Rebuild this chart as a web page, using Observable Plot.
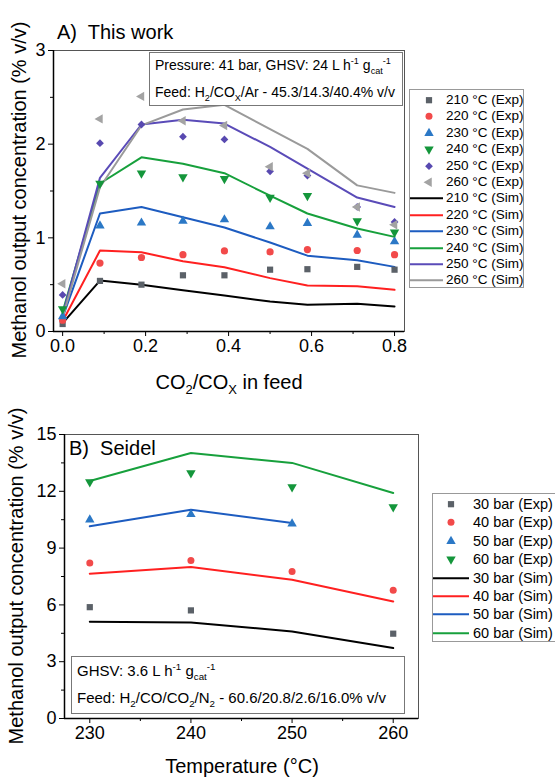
<!DOCTYPE html>
<html><head><meta charset="utf-8">
<script src="https://cdn.jsdelivr.net/npm/d3@7"></script>
<script src="https://cdn.jsdelivr.net/npm/@observablehq/plot@0.6"></script>
<style>
body{margin:0;background:#fff;}
#root{position:relative;width:555px;height:779px;overflow:hidden;font-family:Arial,"Liberation Sans",Helvetica,sans-serif;color:#000;}
.abs{position:absolute;white-space:nowrap;}
sub,sup{font-size:65%;line-height:0;}
.plot{position:absolute;left:0;}
.box{position:absolute;background:#fff;border:1px solid #777;box-sizing:border-box;}
.legend{position:absolute;background:#fff;border:1px solid #999;box-sizing:border-box;}
.row{position:relative;white-space:nowrap;}
.row svg{position:absolute;left:0;top:0;}
.ytitle{position:absolute;white-space:nowrap;font-size:20px;transform:translate(-50%,-50%) rotate(-90deg);}
</style>
</head><body>
<div id="root"></div>
<script>
// ---------- Panel A data ----------
const ratio = [0, 0.09, 0.19, 0.29, 0.39, 0.5, 0.59, 0.71, 0.8];
const tempsA = ["210 °C","220 °C","230 °C","240 °C","250 °C","260 °C"];
const exp210 = [0.08, 0.54, 0.50, 0.60, 0.60, 0.66, 0.665, 0.69, 0.66];
const exp220 = [0.12, 0.73, 0.79, 0.82, 0.86, 0.85, 0.875, 0.865, 0.82];
const exp230 = [0.16, 1.13, 1.16, 1.18, 1.195, 1.12, 1.155, 1.03, 0.96];
const exp240 = [0.24, 1.58, 1.69, 1.65, 1.63, 1.43, 1.45, 1.18, 1.06];
const exp250 = [0.39, 2.01, 2.21, 2.08, 2.05, 1.71, 1.665, 1.33, 1.17];
const exp260 = [0.51, 2.27, 2.51, 2.25, 2.20, 1.76, 1.69, 1.33, 1.14];
const sim210 = [0.09, 0.544, 0.50, 0.44, 0.384, 0.32, 0.285, 0.295, 0.267];
const sim220 = [0.11, 0.864, 0.846, 0.75, 0.686, 0.57, 0.49, 0.483, 0.445];
const sim230 = [0.15, 1.26, 1.33, 1.22, 1.11, 0.95, 0.81, 0.76, 0.69];
const sim240 = [0.21, 1.58, 1.86, 1.79, 1.69, 1.45, 1.26, 1.10, 1.01];
const sim250 = [0.18, 1.64, 2.21, 2.26, 2.22, 1.97, 1.74, 1.43, 1.33];
const sim260 = [0.15, 1.54, 2.20, 2.37, 2.42, 2.16, 1.95, 1.56, 1.48];
const ticksXA = [0, 0.2, 0.4, 0.6, 0.8];
const minorXA = [0.1, 0.3, 0.5, 0.7];
const ticksYA = [0, 1, 2, 3];
const minorYA = [0.5, 1.5, 2.5];

// ---------- Panel B data ----------
const temperature = [230, 240, 250, 260];
const pressures = ["30 bar","40 bar","50 bar","60 bar"];
const exp30 = [5.88, 5.71, null, 4.48];
const exp40 = [8.21, 8.35, 7.77, 6.77];
const exp50 = [10.5, 10.78, 10.29, null];
const exp60 = [12.49, 12.97, 12.23, 11.17];
const sim30 = [5.11, 5.07, 4.6, 3.72];
const sim40 = [7.65, 8.0, 7.33, 6.18];
const sim50 = [10.15, 11.03, 10.32, null];
const sim60 = [12.54, 14.02, 13.5, 11.91];
const ticksXB = [230, 240, 250, 260];
const minorXB = [235, 245, 255];
const ticksYB = [0, 3, 6, 9, 12, 15];
const minorYB = [1.5, 4.5, 7.5, 10.5, 13.5];

// ---------- styles ----------
const expColors = ["#5b6168","#f24a4a","#2b78c6","#14963b","#5849b0","#a3a3a3"];
const simColors = ["#000000","#ff2020","#1d5cc0","#17a03c","#5a4bb8","#9a9a9a"];
const sq3 = Math.sqrt(3);
const triDown = {draw(ctx, size){const y=-Math.sqrt(size/(sq3*3)); ctx.moveTo(0,-y*2); ctx.lineTo(-sq3*y,y); ctx.lineTo(sq3*y,y); ctx.closePath();}};
const triLeft = {draw(ctx, size){const y=-Math.sqrt(size/(sq3*3)); ctx.moveTo(y*2,0); ctx.lineTo(-y,-sq3*y); ctx.lineTo(-y,sq3*y); ctx.closePath();}};
const symbols = ["square","circle","triangle",triDown,"diamond2",triLeft];
const d3Types = [d3.symbolSquare, d3.symbolCircle, d3.symbolTriangle, triDown, d3.symbolDiamond2, triLeft];

function rows(xs, ys){ return xs.map((x,i)=>({x, y: ys[i]})).filter(d=>d.y!=null); }

const root = document.getElementById("root");
const FONT = 'Arial, "Liberation Sans", Helvetica, sans-serif';

function axes(tx, mx, ty, my, fmtX){
  return [
    Plot.axisX({ticks: tx, tickSize: 5, tickFormat: fmtX, label: null, fontSize: 18, tickPadding: 3}),
    Plot.axisX({ticks: mx, tickSize: 3, tickFormat: () => "", label: null}),
    Plot.axisY({ticks: ty, tickSize: 5, tickFormat: d => String(d), label: null, fontSize: 18, tickPadding: 3}),
    Plot.axisY({ticks: my, tickSize: 3, tickFormat: () => "", label: null})
  ];
}

// ---------- Panel A ----------
const expA = [exp210, exp220, exp230, exp240, exp250, exp260];
const simA = [sim210, sim220, sim230, sim240, sim250, sim260];
const xDomA = [-0.022, 0.824];
const marksA = [
  Plot.frame({stroke: "#555", strokeWidth: 1}),
  ...simA.map((s,i)=>Plot.line(rows(ratio, s), {x:"x", y:"y", stroke: simColors[i], strokeWidth: 2})),
  ...expA.map((s,i)=>Plot.dot(rows(ratio, s), {x:"x", y:"y", fill: expColors[i], symbol: symbols[i], r: i===1 ? 3.6 : 3.5, stroke: "none"})),
  Plot.ruleX([xDomA[0]], {stroke: "#000", strokeWidth: 1.5}),
  Plot.ruleY([0], {stroke: "#000", strokeWidth: 1.5}),
  ...axes(ticksXA, minorXA, ticksYA, minorYA, d => d.toFixed(1))
];
const plotA = Plot.plot({
  width: 555, height: 395,
  marginLeft: 53, marginRight: 151, marginTop: 50, marginBottom: 64,
  x: {domain: xDomA, label: null},
  y: {domain: [0, 3], label: null},
  style: {fontFamily: FONT, fontSize: "18px", background: "transparent", color: "#000"},
  marks: marksA
});
plotA.classList.add("plot");
plotA.style.top = "0px";
root.appendChild(plotA);

// ---------- Panel B ----------
const expB = [exp30, exp40, exp50, exp60];
const simB = [sim30, sim40, sim50, sim60];
const xDomB = [227.5, 262.5];
const marksB = [
  Plot.frame({stroke: "#555", strokeWidth: 1}),
  ...simB.map((s,i)=>Plot.line(rows(temperature, s), {x:"x", y:"y", stroke: simColors[i], strokeWidth: 2})),
  ...expB.map((s,i)=>Plot.dot(rows(temperature, s), {x:"x", y:"y", fill: expColors[i], symbol: symbols[i], r: 3.5, stroke: "none"})),
  Plot.ruleX([xDomB[0]], {stroke: "#000", strokeWidth: 1.5}),
  Plot.ruleY([0], {stroke: "#000", strokeWidth: 1.5}),
  ...axes(ticksXB, minorXB, ticksYB, minorYB, d => String(d))
];
const plotB = Plot.plot({
  width: 555, height: 384,
  marginLeft: 64, marginRight: 137, marginTop: 39, marginBottom: 61,
  x: {domain: xDomB, label: null},
  y: {domain: [0, 15], label: null},
  style: {fontFamily: FONT, fontSize: "18px", background: "transparent", color: "#000"},
  marks: marksB
});
plotB.classList.add("plot");
plotB.style.top = "395px";
root.appendChild(plotB);

// ---------- Text overlays ----------
function addDiv(html, css, cls){ const d = document.createElement("div"); d.className = cls || "abs"; d.innerHTML = html; Object.assign(d.style, css); root.appendChild(d); return d; }

addDiv("A)&nbsp; This work", {left: "57px", top: "21px", fontSize: "20px"});
addDiv("B)&nbsp; Seidel", {left: "69px", top: "437px", fontSize: "20px"});
addDiv("CO<sub>2</sub>/CO<sub>X</sub> in feed", {left: "229px", top: "371px", fontSize: "20px", transform: "translateX(-50%)"});
addDiv("Temperature (°C)", {left: "242px", top: "755px", fontSize: "20px", transform: "translateX(-50%)"});
addDiv("Methanol output concentration (% v/v)", {left: "19px", top: "190px"}, "ytitle");
addDiv("Methanol output concentration (% v/v)", {left: "16px", top: "576px"}, "ytitle");

// annotation boxes
addDiv(
  '<div class="abs" style="left:5px;top:4px">Pressure: 41 bar, GHSV: 24 L h<sup>-1</sup> g<sub>cat</sub><sup>-1</sup></div>' +
  '<div class="abs" style="left:5px;top:31px">Feed: H<sub>2</sub>/CO<sub>X</sub>/Ar - 45.3/14.3/40.4% v/v</div>',
  {left: "149px", top: "52px", width: "254px", height: "54px", fontSize: "14px"}, "box");
addDiv(
  '<div class="abs" style="left:5px;top:5px">GHSV: 3.6 L h<sup>-1</sup> g<sub>cat</sub><sup>-1</sup></div>' +
  '<div class="abs" style="left:5px;top:32px">Feed: H<sub>2</sub>/CO/CO<sub>2</sub>/N<sub>2</sub> - 60.6/20.8/2.6/16.0% v/v</div>',
  {left: "71px", top: "656px", width: "334px", height: "58px", fontSize: "15px"}, "box");

// legends
function legend(labels, css, rowH, fontSize, markX, lineW, textX){
  const L = document.createElement("div"); L.className = "legend"; Object.assign(L.style, css);
  const entries = [];
  labels.forEach((lab,i)=>entries.push({type:"exp", i, text: lab + " (Exp)"}));
  labels.forEach((lab,i)=>entries.push({type:"sim", i, text: lab + " (Sim)"}));
  entries.forEach(e=>{
    const r = document.createElement("div"); r.className = "row";
    r.style.height = rowH + "px"; r.style.lineHeight = rowH + "px"; r.style.fontSize = fontSize + "px";
    let g;
    if (e.type === "exp") {
      const p = d3.symbol().type(d3Types[e.i]).size(Math.PI*3.5*3.5)();
      g = `<path d="${p}" transform="translate(${markX},${rowH/2})" fill="${expColors[e.i]}"/>`;
    } else {
      g = `<line x1="0" x2="${lineW}" y1="${rowH/2}" y2="${rowH/2}" stroke="${simColors[e.i]}" stroke-width="2"/>`;
    }
    r.innerHTML = `<svg width="${textX}" height="${rowH}">${g}</svg><span style="position:absolute;left:${textX}px;top:0">${e.text}</span>`;
    L.appendChild(r);
  });
  root.appendChild(L);
}
legend(tempsA, {left: "409px", top: "89px", width: "115px", height: "199px", paddingTop: "2px"}, 16.4, 13.5, 19, 33, 36);
legend(pressures, {left: "432px", top: "493px", width: "124px", height: "149px", paddingTop: "1px"}, 18.4, 14.5, 18, 36, 40);
</script>
</body></html>
